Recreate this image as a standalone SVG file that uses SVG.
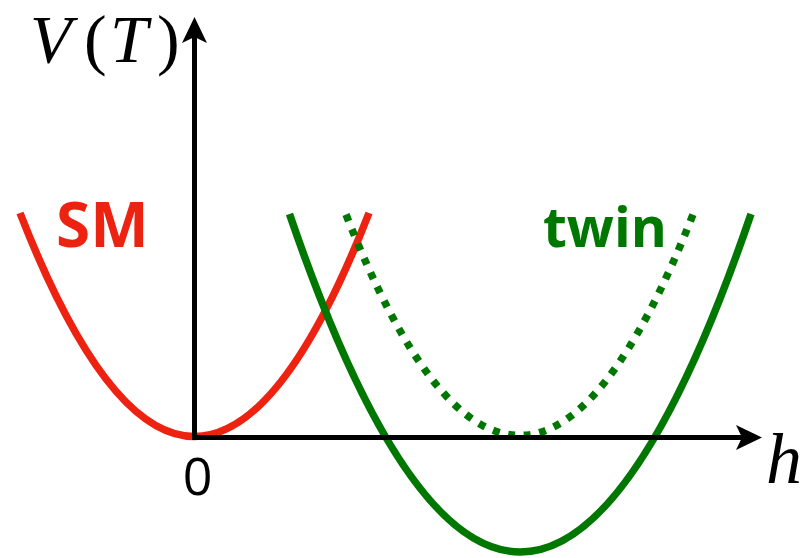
<svg xmlns="http://www.w3.org/2000/svg" width="804" height="558" viewBox="0 0 804 558">
  <style>
    .axis { stroke: #000; stroke-width: 5; fill: none; }
    .curve { fill: none; stroke-width: 7.5; }
    .sm { stroke: #EE2211; }
    .tw { stroke: #007700; }
    .dot { stroke-dasharray: 7 8.7; stroke-linecap: butt; }
    .math { font-family: "Liberation Serif", "Times New Roman", serif; fill: #000; }
    .lbl { font-family: "Open Sans", "Liberation Sans", sans-serif; }
  </style>
  <defs>
    <marker id="arr" viewBox="0 0 26 25" refX="6" refY="12.5" markerWidth="26" markerHeight="25" markerUnits="userSpaceOnUse" orient="auto">
      <path d="M0,0 L26,12.5 L0,25 L6,12.5 Z" fill="#000"/>
    </marker>
  </defs>
  <rect width="804" height="558" fill="#fff"/>
  <g id="curves">
    <path id="sm-curve" class="curve sm" d="M20,213 Q194.5,660 369,213"/>
    <path id="twin-dotted" class="curve tw dot" d="M346,214.5 Q519.5,656.5 693,214.5"/>
    <path id="twin-curve" class="curve tw" d="M289.5,214 Q520.25,890 751,214"/>
  </g>
  <g id="axes">
    <line class="axis" x1="194.5" y1="440" x2="194.5" y2="37" marker-end="url(#arr)"/>
    <line class="axis" x1="192" y1="437.5" x2="742" y2="437.5" marker-end="url(#arr)"/>
  </g>
  <g id="labels">
    <text class="math" y="62" font-size="68"><tspan x="30" font-style="italic">V</tspan><tspan x="84">(</tspan><tspan x="110" font-style="italic">T</tspan><tspan x="157">)</tspan></text>
    <text class="math" x="766" y="483" font-size="72" font-style="italic">h</text>
    <text class="lbl" x="197.5" y="495" font-size="52" text-anchor="middle" fill="#000">0</text>
    <text class="lbl" x="56" y="247" font-size="62" font-weight="bold" fill="#EE2211">SM</text>
    <text class="lbl" x="543" y="247" font-size="55" font-weight="bold" fill="#007700">twin</text>
  </g>
</svg>
